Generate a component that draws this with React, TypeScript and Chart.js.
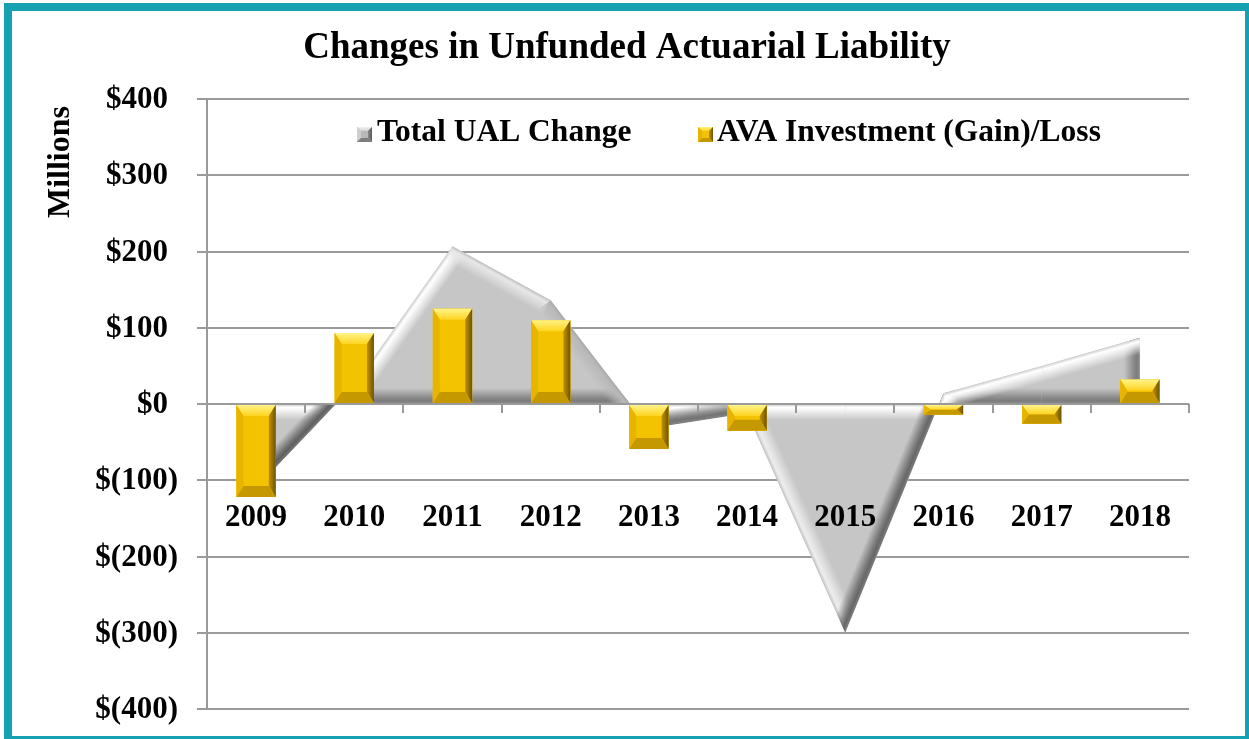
import React, { useEffect, useRef } from "react";
import { Chart, registerables } from "chart.js";

Chart.register(...registerables);

// ---------------- data ----------------
const years = ["2009", "2010", "2011", "2012", "2013", "2014", "2015", "2016", "2017", "2018"];
const totalUalChange = [-110, 25, 207, 136, -32, -12, -300, 14, 50, 87];
const avaInvestmentGainLoss = [-122, 93, 125, 110, -59, -35, 0, -14, -26, 32];
const yMin = -400;
const yMax = 400;
const yStep = 100;
const seriesLabels = ["Total UAL Change", "AVA Investment (Gain)/Loss"];
const chartTitle = "Changes in Unfunded Actuarial Liability";
const yAxisTitle = "Millions";

// ---------------- layout / style ----------------
const W = 1249;
const H = 739;
const SERIF = '"Liberation Serif", "Times New Roman", serif';
const GRID = "#9a9a9a";
const GOLD = "#f3c200";
const GRAY_FILL = "#c6c6c6";
const TEAL = "#16a1b3";
const CATEGORY_LABEL_VALUE = -150;

const fmtMoney = (v: number) => (v < 0 ? `$(${Math.abs(v)})` : `$${v}`);

function mix(c1: number[], c2: number[], t: number) {
  return c1.map((v, i) => Math.round(v + (c2[i] - v) * t));
}

function drawBevelBox(
  ctx: CanvasRenderingContext2D,
  l: number,
  t: number,
  r: number,
  b: number,
  palette: { face: string; top: [string, string]; left: string; right: [string, string]; bottom: string },
  dxMax: number,
  dyMax: number
) {
  const w = r - l;
  const h = b - t;
  if (w < 1 || h < 1) return;
  const dx = Math.min(dxMax, w / 2);
  const dy = Math.min(dyMax, h / 2);
  ctx.save();
  ctx.fillStyle = palette.face;
  ctx.fillRect(l, t, w, h);
  // top
  let g = ctx.createLinearGradient(0, t, 0, t + dy);
  g.addColorStop(0, palette.top[0]);
  g.addColorStop(1, palette.top[1]);
  ctx.fillStyle = g;
  ctx.beginPath();
  ctx.moveTo(l, t);
  ctx.lineTo(r, t);
  ctx.lineTo(r - dx, t + dy);
  ctx.lineTo(l + dx, t + dy);
  ctx.closePath();
  ctx.fill();
  // left
  ctx.fillStyle = palette.left;
  ctx.beginPath();
  ctx.moveTo(l, t);
  ctx.lineTo(l + dx, t + dy);
  ctx.lineTo(l + dx, b - dy);
  ctx.lineTo(l, b);
  ctx.closePath();
  ctx.fill();
  // right
  g = ctx.createLinearGradient(r - dx, 0, r, 0);
  g.addColorStop(0, palette.right[0]);
  g.addColorStop(1, palette.right[1]);
  ctx.fillStyle = g;
  ctx.beginPath();
  ctx.moveTo(r, t);
  ctx.lineTo(r, b);
  ctx.lineTo(r - dx, b - dy);
  ctx.lineTo(r - dx, t + dy);
  ctx.closePath();
  ctx.fill();
  // bottom
  ctx.fillStyle = palette.bottom;
  ctx.beginPath();
  ctx.moveTo(l, b);
  ctx.lineTo(r, b);
  ctx.lineTo(r - dx, b - dy);
  ctx.lineTo(l + dx, b - dy);
  ctx.closePath();
  ctx.fill();
  ctx.restore();
}

const goldPalette = {
  face: GOLD,
  top: ["#fff38a", "#ffd41f"] as [string, string],
  left: "#e9b400",
  right: ["#c29300", "#6e5300"] as [string, string],
  bottom: "#c69800",
};
const grayPalette = {
  face: "#b8b8b8",
  top: ["#f2f2f2", "#d0d0d0"] as [string, string],
  left: "#cfcfcf",
  right: ["#8a8a8a", "#5a5a5a"] as [string, string],
  bottom: "#7e7e7e",
};

function drawAreaBevel(chart: any, meta: any) {
  const ctx: CanvasRenderingContext2D = chart.ctx;
  const y0 = chart.scales.y.getPixelForValue(0);
  const pts = meta.data.map((p: any) => ({ x: p.x, y: p.y }));
  if (!pts.length) return;
  const first = pts[0];
  const last = pts[pts.length - 1];
  ctx.save();
  ctx.beginPath();
  ctx.moveTo(first.x, y0);
  pts.forEach((p: any) => ctx.lineTo(p.x, p.y));
  ctx.lineTo(last.x, y0);
  ctx.closePath();
  ctx.clip();

  type Edge = { a: any; b: any; n: number[] };
  const baseEdges: Edge[] = [];
  const topEdges: Edge[] = [];
  topEdges.push({ a: { x: first.x, y: y0 }, b: first, n: [-1, 0] });
  topEdges.push({ a: last, b: { x: last.x, y: y0 }, n: [1, 0] });
  for (let i = 0; i < pts.length - 1; i++) {
    const p = pts[i];
    const q = pts[i + 1];
    const pieces: any[][] = [];
    if ((p.y - y0) * (q.y - y0) < 0) {
      const t = (y0 - p.y) / (q.y - p.y);
      const m = { x: p.x + t * (q.x - p.x), y: y0 };
      pieces.push([p, m], [m, q]);
    } else pieces.push([p, q]);
    for (const [a, b] of pieces) {
      const pos = (a.y + b.y) / 2 < y0;
      const dx = b.x - a.x;
      const dy = b.y - a.y;
      const len = Math.hypot(dx, dy) || 1;
      const up = [dy / len, -dx / len];
      const n = pos ? up : [-up[0], -up[1]];
      topEdges.push({ a, b, n });
      baseEdges.push({ a: { x: a.x, y: y0 }, b: { x: b.x, y: y0 }, n: pos ? [0, 1] : [0, -1] });
    }
  }
  const base = [198, 198, 198];
  const light = [255, 255, 255];
  const dark = [95, 95, 95];
  const band = 16;
  const drawEdge = (e: Edge) => {
    const shade = (-e.n[0] - e.n[1]) / Math.SQRT2;
    const c = shade >= 0 ? mix(base, light, Math.min(1, 0.25 + shade * 1.2)) : mix(base, dark, Math.min(1, -shade));
    const inx = -e.n[0] * band;
    const iny = -e.n[1] * band;
    const mx = (e.a.x + e.b.x) / 2;
    const my = (e.a.y + e.b.y) / 2;
    const g = ctx.createLinearGradient(mx, my, mx + inx, my + iny);
    const edgeC = mix(c, [150, 150, 150], 0.5);
    g.addColorStop(0, `rgba(${edgeC.join(",")},1)`);
    g.addColorStop(0.22, `rgba(${c.join(",")},1)`);
    g.addColorStop(0.45, `rgba(${c.join(",")},0.75)`);
    g.addColorStop(1, `rgba(${c.join(",")},0)`);
    ctx.fillStyle = g;
    ctx.beginPath();
    ctx.moveTo(e.a.x, e.a.y);
    ctx.lineTo(e.b.x, e.b.y);
    ctx.lineTo(e.b.x + inx, e.b.y + iny);
    ctx.lineTo(e.a.x + inx, e.a.y + iny);
    ctx.closePath();
    ctx.fill();
  };
  baseEdges.forEach(drawEdge);
  topEdges.forEach(drawEdge);
  ctx.restore();
}

function drawZeroAxis(chart: any) {
  const ctx: CanvasRenderingContext2D = chart.ctx;
  const xs = chart.scales.x;
  const y0 = Math.round(chart.scales.y.getPixelForValue(0));
  const { left, right } = chart.chartArea;
  ctx.save();
  ctx.strokeStyle = GRID;
  ctx.lineWidth = 2;
  ctx.beginPath();
  ctx.moveTo(left, y0);
  ctx.lineTo(right, y0);
  const half = (xs.getPixelForValue(1) - xs.getPixelForValue(0)) / 2;
  for (let i = 0; i < years.length; i++) {
    const x = Math.round(xs.getPixelForValue(i) + half);
    ctx.moveTo(x, y0);
    ctx.lineTo(x, y0 + 9);
  }
  ctx.stroke();
  ctx.restore();
}

const decorPlugin = {
  id: "decor",
  beforeDraw(chart: any) {
    const ctx = chart.ctx;
    ctx.save();
    ctx.fillStyle = "#ffffff";
    ctx.fillRect(0, 0, chart.width, chart.height);
    ctx.restore();
  },
  afterDatasetDraw(chart: any, args: any) {
    const meta = args.meta;
    if (meta.type === "line") {
      drawAreaBevel(chart, meta);
      drawZeroAxis(chart);
    } else if (meta.type === "bar") {
      const ctx = chart.ctx;
      meta.data.forEach((el: any) => {
        const l = el.x - el.width / 2;
        const r = el.x + el.width / 2;
        const t = Math.min(el.y, el.base);
        const b = Math.max(el.y, el.base);
        drawBevelBox(ctx, l, t, r, b, goldPalette, 7, 11);
      });
    }
  },
  afterDraw(chart: any) {
    const ctx: CanvasRenderingContext2D = chart.ctx;
    const ys = chart.scales.y;
    const xs = chart.scales.x;
    ctx.save();
    ctx.fillStyle = "#000000";

    // title
    ctx.font = `bold 37px ${SERIF}`;
    ctx.textAlign = "center";
    ctx.textBaseline = "middle";
    ctx.fillText(chartTitle, 627, 48);

    // y-axis title
    ctx.save();
    ctx.translate(61, 162);
    ctx.rotate(-Math.PI / 2);
    ctx.font = `bold 32px ${SERIF}`;
    ctx.textAlign = "center";
    ctx.textBaseline = "middle";
    ctx.fillText(yAxisTitle, 0, 0);
    ctx.restore();

    // y tick labels
    ctx.font = `bold 31px ${SERIF}`;
    ctx.textAlign = "right";
    ctx.textBaseline = "middle";
    ys.ticks.forEach((t: any) => {
      const v = t.value;
      const y = ys.getPixelForValue(v);
      ctx.fillText(fmtMoney(v), v < 0 ? 178 : 168, y + 1);
    });

    // category labels
    ctx.textAlign = "center";
    const ly = ys.getPixelForValue(CATEGORY_LABEL_VALUE);
    years.forEach((yr, i) => {
      ctx.fillText(yr, xs.getPixelForValue(i), ly);
    });

    // legend
    const legY = 132.5;
    drawBevelBox(ctx, 357, 127, 372, 142, grayPalette, 4, 4);
    drawBevelBox(ctx, 698, 127, 713, 142, goldPalette, 4, 4);
    ctx.fillStyle = "#000000";
    ctx.font = `bold 31.5px ${SERIF}`;
    ctx.textAlign = "left";
    ctx.textBaseline = "middle";
    ctx.fillText(seriesLabels[0], 377, legY);
    ctx.fillText(seriesLabels[1], 717, legY);
    ctx.restore();
  },
};

export default function App() {
  const canvasRef = useRef<HTMLCanvasElement | null>(null);

  useEffect(() => {
    const canvas = canvasRef.current;
    if (!canvas) return;
    const chart = new Chart(canvas, {
      type: "bar",
      data: {
        labels: years,
        datasets: [
          {
            type: "line",
            label: seriesLabels[0],
            data: totalUalChange,
            fill: "origin",
            backgroundColor: GRAY_FILL,
            borderColor: "rgba(0,0,0,0)",
            borderWidth: 0,
            pointRadius: 0,
            tension: 0,
            order: 2,
          } as any,
          {
            type: "bar",
            label: seriesLabels[1],
            data: avaInvestmentGainLoss,
            backgroundColor: GOLD,
            borderWidth: 0,
            barPercentage: 0.4,
            categoryPercentage: 1,
            order: 1,
          } as any,
        ],
      },
      options: {
        responsive: false,
        animation: false,
        devicePixelRatio: 1,
        layout: { padding: { left: 197, top: 99, right: 60, bottom: 30 } },
        plugins: {
          legend: { display: false },
          title: { display: false },
          tooltip: { enabled: false },
        },
        scales: {
          x: {
            type: "category",
            offset: true,
            grid: { display: false, drawTicks: false, tickLength: 0 },
            border: { display: false },
            ticks: { display: false },
          },
          y: {
            min: yMin,
            max: yMax,
            ticks: { display: false, stepSize: yStep },
            grid: { color: GRID, lineWidth: 2, drawTicks: true, tickLength: 10 },
            border: { display: true, color: GRID, width: 2 },
          },
        },
      },
      plugins: [decorPlugin],
    } as any);
    return () => chart.destroy();
  }, []);

  return (
    <div
      style={{
        position: "fixed",
        left: 0,
        top: 0,
        width: W,
        height: H,
        overflow: "hidden",
        background: "#ffffff",
      }}
    >
      <canvas ref={canvasRef} width={W} height={H} style={{ display: "block", width: W, height: H }} />
      <div
        style={{
          position: "absolute",
          left: 4,
          top: 3,
          width: 1249,
          height: 741,
          boxSizing: "border-box",
          border: `8px solid ${TEAL}`,
          pointerEvents: "none",
        }}
      />
    </div>
  );
}
